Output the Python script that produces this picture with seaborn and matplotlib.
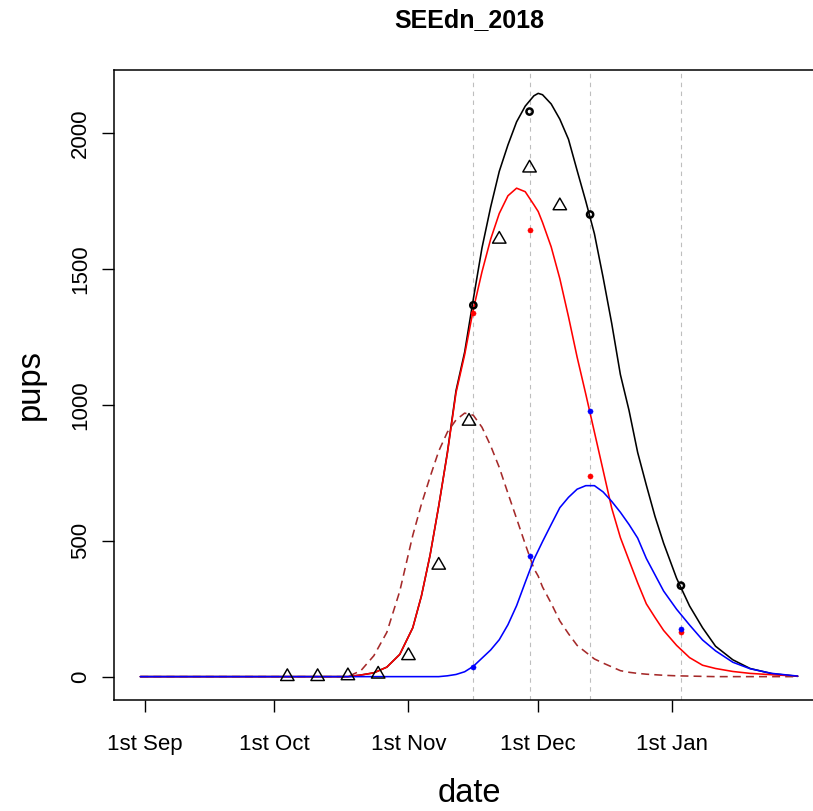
import matplotlib
matplotlib.use("Agg")
import matplotlib.pyplot as plt
from matplotlib.path import Path
import pandas as pd
import seaborn as sns

# Days counted from 1st September 2018
curve_day = [-1, 44, 47, 50, 53, 56, 59, 62, 64, 66, 68, 70, 72, 74, 76, 78, 80, 82,
             84, 86, 88, 90, 91, 92, 94, 96, 98, 100, 102, 104, 106, 108, 110, 112,
             114, 116, 118, 120, 123, 126, 129, 132, 136, 140, 145, 151]

# Fitted pup numbers: all pups, first stage, second stage, early-arrival curve
total_fit = [0, 0, 0, 6, 14, 35, 82, 180, 297, 447, 628, 825, 1053, 1195, 1390, 1578,
             1728, 1860, 1957, 2042, 2100, 2138, 2147, 2142, 2108, 2052, 1978, 1863,
             1750, 1630, 1470, 1300, 1112, 980, 825, 705, 590, 491, 362, 260, 180, 112,
             62, 30, 11, 1]
stage1_fit = [0, 0, 0, 6, 14, 35, 82, 180, 297, 447, 628, 822, 1045, 1185, 1352, 1490,
              1610, 1705, 1770, 1798, 1785, 1737, 1712, 1672, 1582, 1465, 1325, 1176,
              1040, 900, 760, 620, 512, 428, 345, 268, 218, 170, 115, 70, 42, 30, 19,
              12, 7, 2]
stage2_fit = [0, 0, 0, 0, 0, 0, 0, 0, 0, 0, 0, 3, 8, 18, 38, 68, 98, 136, 191, 261, 347,
              431, 464, 497, 560, 622, 660, 690, 703, 703, 680, 645, 605, 560, 510, 435,
              375, 315, 248, 190, 135, 95, 53, 29, 12, 2]
early_fit = [0, 0, 0, 22, 77, 163, 315, 520, 635, 735, 830, 900, 945, 970, 962, 918,
             850, 770, 675, 582, 488, 398, 370, 330, 270, 205, 158, 115, 90, 65, 50, 36,
             22, 16, 12, 9, 7, 5, 3, 2, 1, 0, 0, 0, 0, 0]

# Aerial survey counts
survey_day = [76, 89, 103, 124]
survey_total = [1367, 2080, 1701, 335]
survey_stage1 = [1340, 1644, 737, 164]
survey_stage2 = [36, 443, 977, 177]

# Weekly ground counts
ground_day = [33, 40, 47, 54, 61, 68, 75, 82, 89, 96]
ground_count = [0, 0, 3, 9, 77, 410, 940, 1610, 1872, 1733]

tick_day = [0, 30, 61, 91, 122]
tick_label = ["1st Sep", "1st Oct", "1st Nov", "1st Dec", "1st Jan"]
y_ticks = [0, 500, 1000, 1500, 2000]

sns.set_style("ticks")
plt.rcParams["font.family"] = ["Liberation Sans", "DejaVu Sans"]
plt.rcParams["text.color"] = "black"
plt.rcParams["axes.labelcolor"] = "black"

fits = pd.DataFrame({"day": curve_day, "total": total_fit, "stage1": stage1_fit,
                     "stage2": stage2_fit, "early": early_fit})
surveys = pd.DataFrame({"day": survey_day, "total": survey_total,
                        "stage1": survey_stage1, "stage2": survey_stage2})
ground = pd.DataFrame({"day": ground_day, "count": ground_count})

fig = plt.figure(figsize=(8.13, 8.11), dpi=100)
ax = fig.add_axes([114 / 813, 111 / 811, 710 / 813, 630 / 811])

for d in survey_day:
    ax.axvline(d, color="#bebebe", lw=0.8, ls=(0, (4, 4)), zorder=1)

# triangle centred on its centroid
tri = Path([(0, 1.555), (1.347, -0.778), (-1.347, -0.778), (0, 1.555)],
           [Path.MOVETO, Path.LINETO, Path.LINETO, Path.CLOSEPOLY])

sns.scatterplot(data=ground, x="day", y="count", marker=tri, s=125,
                facecolor="none", edgecolor="black", linewidth=1.05, ax=ax, zorder=4)
sns.scatterplot(data=surveys, x="day", y="total", marker="o", s=20,
                facecolor="none", edgecolor="black", linewidth=1.8, ax=ax, zorder=4)
sns.scatterplot(data=surveys, x="day", y="stage1", marker="o", s=14,
                color="#ff0000", edgecolor="#ff0000", linewidth=0.3, ax=ax, zorder=4)
sns.scatterplot(data=surveys, x="day", y="stage2", marker="o", s=14,
                color="#0000ff", edgecolor="#0000ff", linewidth=0.3, ax=ax, zorder=4)

sns.lineplot(data=fits, x="day", y="total", color="black", lw=1.15, ax=ax, zorder=3,
             errorbar=None)
sns.lineplot(data=fits, x="day", y="stage1", color="#ff0000", lw=1.15, ax=ax, zorder=3,
             errorbar=None)
sns.lineplot(data=fits, x="day", y="early", color="#a52a2a", lw=1.15, ax=ax, zorder=3,
             errorbar=None, linestyle=(0, (5, 3.2)))
sns.lineplot(data=fits, x="day", y="stage2", color="#0000ff", lw=1.15, ax=ax, zorder=3,
             errorbar=None)

ax.set_xlim(-7.08, 157.08)
ax.set_ylim(-86, 2233)
ax.set_xticks(tick_day)
ax.set_xticklabels(tick_label)
ax.set_yticks(y_ticks)
ax.set_yticklabels([str(v) for v in y_ticks])

for side in ["left", "bottom", "top"]:
    ax.spines[side].set_visible(True)
    ax.spines[side].set_color("black")
    ax.spines[side].set_linewidth(1.1)
ax.spines["right"].set_visible(False)

ax.tick_params(axis="both", length=8.5, width=1.0, color="black", labelsize=16,
               labelcolor="black", direction="out")
ax.tick_params(axis="x", pad=16)
ax.tick_params(axis="y", pad=8, labelrotation=90)
for lab in ax.get_yticklabels():
    lab.set_va("center")

ax.set_xlabel("date", fontsize=23.5)
ax.set_ylabel("pups", fontsize=23.5)
ax.xaxis.set_label_coords(0.5, (700 - 793) / 630)
ax.xaxis.label.set_va("center")
ax.yaxis.set_label_coords((30 - 114) / 710, 0.5)
ax.yaxis.label.set_va("center")
ax.set_title("SEEdn_2018", fontsize=18, fontweight="bold", y=(700 - 20) / 630,
             va="center", pad=0, color="black")

fig.savefig("out.png", dpi=100, facecolor="white")
